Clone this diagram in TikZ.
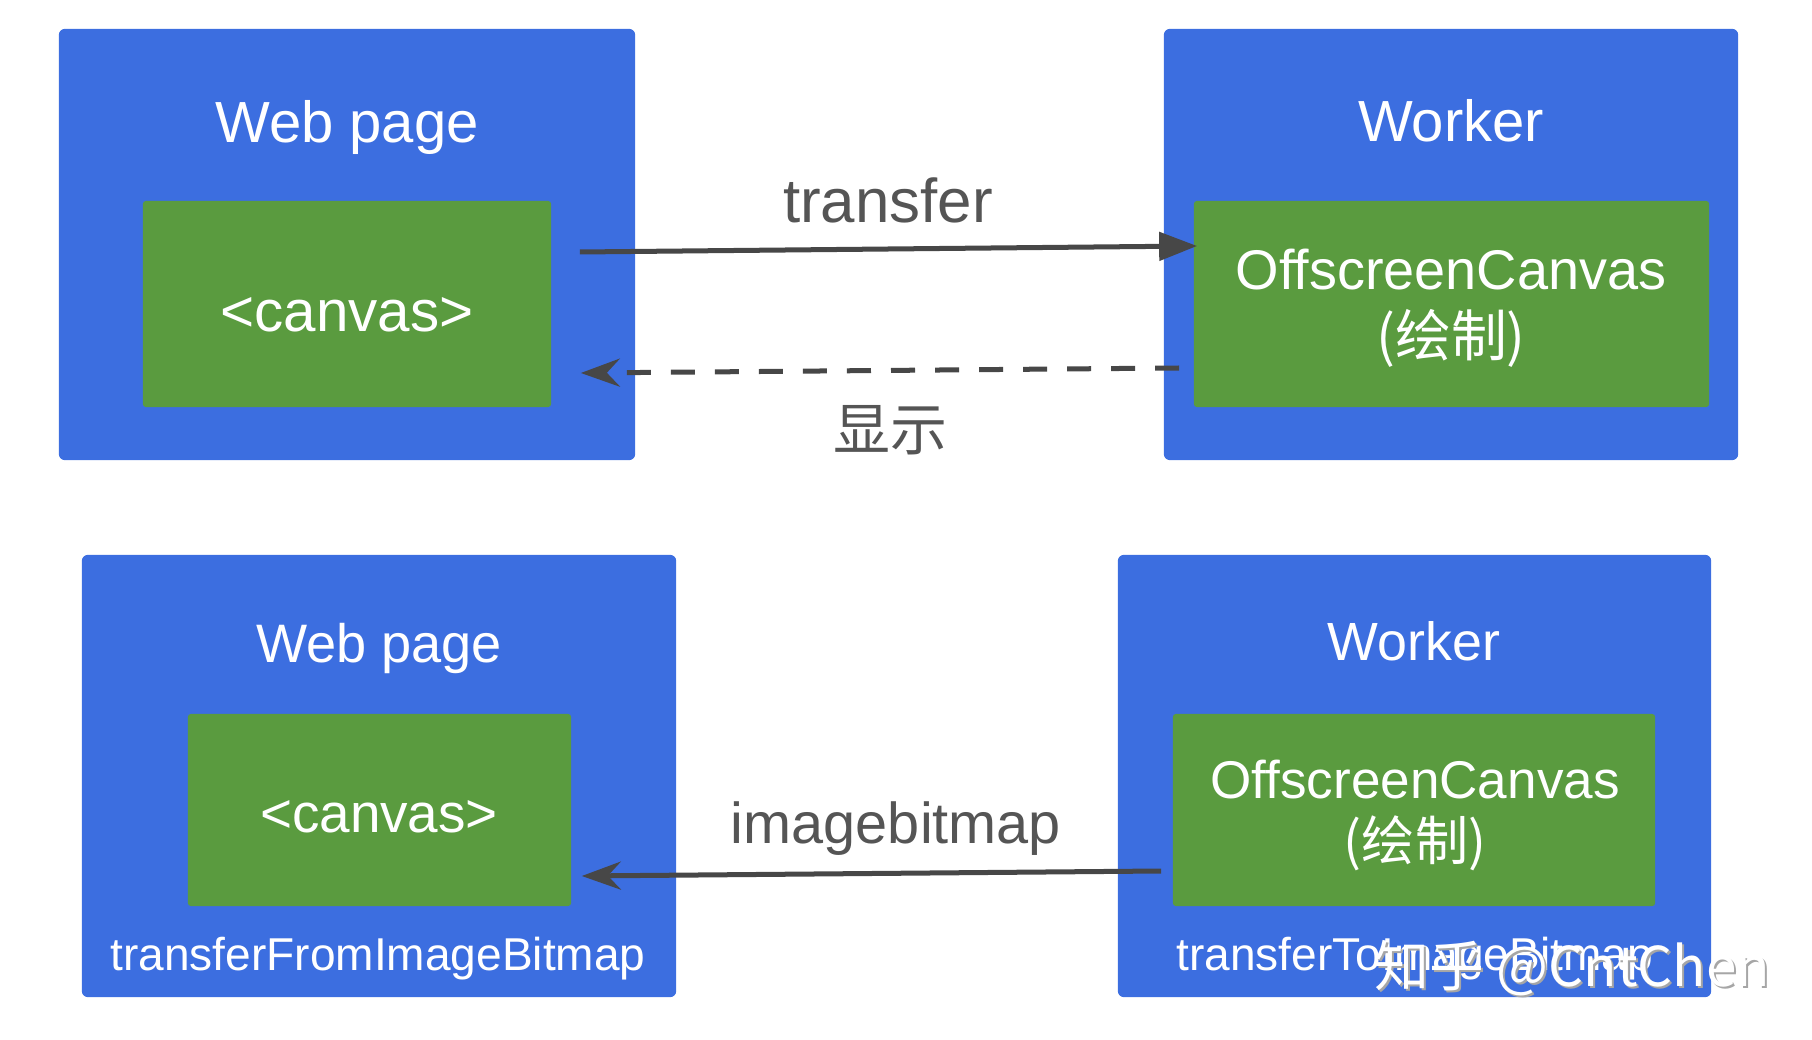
\documentclass[tikz,border=0pt]{standalone}
\usepackage{fontspec}
\setmainfont{Liberation Sans}
\newfontfamily\cjk{Noto Sans CJK SC}
\usetikzlibrary{arrows.meta, calc}
\definecolor{pageblue}{HTML}{3C6EE0}
\definecolor{canvasgreen}{HTML}{5A9B3F}
\definecolor{linegray}{HTML}{474747}
\definecolor{labelgray}{HTML}{555555}
\newcommand{\fs}[1]{\fontsize{#1}{1.2\dimexpr#1pt\relax}\selectfont}

\begin{document}
\begin{tikzpicture}[x=0.01cm, y=-0.01cm,
    panel/.style={fill=pageblue, rounded corners=0.06cm, inner sep=0},
    canvasbox/.style={fill=canvasgreen, rounded corners=0.03cm, inner sep=0},
    txt/.style={text=white, anchor=base, inner sep=0},
    lbl/.style={text=labelgray, anchor=base, inner sep=0},
    arrow/.style={draw=linegray, line width=0.05cm}
]
    \useasboundingbox (0,0) rectangle (1812,1040);

    % top row: canvas handed over to the worker
    \node[panel, minimum width=5.76cm, minimum height=4.31cm] at (347,244.5) (webA) {};
    \node[canvasbox, minimum width=4.08cm, minimum height=2.06cm] at (347,304) (canvasA) {};
    \node[panel, minimum width=5.74cm, minimum height=4.31cm] at (1451,244.5) (workerA) {};
    \node[canvasbox, minimum width=5.15cm, minimum height=2.06cm] at (1451.5,304) (offA) {};

    \node[txt, font=\fs{16.5}] at (347,143) (webAtitle) {Web page};
    \node[txt, font=\fs{16.6}] at (347,332) (canvasAtext) {<canvas>};
    \node[txt, font=\fs{16.5}] at (1451,142) (workerAtitle) {Worker};
    \node[txt, font=\fs{15.9}] at (1451,290) (offAtext) {OffscreenCanvas};
    \node[txt, font=\cjk\fs{15.9}] at (1451,357) (offAdraw) {(绘制)};

    \node[lbl, font=\fs{17.6}] at (888,223) (transferlbl) {transfer};
    \node[lbl, font=\cjk\fs{16.2}] at (890,451) (showlbl) {显示};

    \draw[arrow, -{Triangle[length=0.38cm, width=0.28cm]}]
        ($(canvasA.east)+(28,-52)$) -- ($(offA.west)+(4,-58)$);
    \draw[arrow, dash pattern=on 0.24cm off 0.2cm, -{Stealth[length=0.39cm, width=0.28cm, inset=0.13cm]}]
        ($(offA.west)+(-14,64)$) -- ($(canvasA.east)+(29,69)$);

    % bottom row: bitmap sent back to the page
    \node[panel, minimum width=5.94cm, minimum height=4.42cm] at (379,776) (webB) {};
    \node[canvasbox, minimum width=3.83cm, minimum height=1.92cm] at (379.5,810) (canvasB) {};
    \node[panel, minimum width=5.93cm, minimum height=4.42cm] at (1414.5,776) (workerB) {};
    \node[canvasbox, minimum width=4.82cm, minimum height=1.92cm] at (1414,810) (offB) {};

    \node[txt, font=\fs{15.4}] at (379,662) (webBtitle) {Web page};
    \node[txt, font=\fs{15.6}] at (379,832) (canvasBtext) {<canvas>};
    \node[txt, font=\fs{13.1}] at (378,970) (fromBitmap) {transferFromImageBitmap};
    \node[txt, font=\fs{15.3}] at (1414,660) (workerBtitle) {Worker};
    \node[txt, font=\fs{15.1}] at (1415,798) (offBtext) {OffscreenCanvas};
    \node[txt, font=\cjk\fs{15.1}] at (1415,860) (offBdraw) {(绘制)};
    \node[txt, font=\fs{13.1}] at (1414.5,970) (toBitmap) {transferToImageBitmap};

    \node[lbl, font=\fs{16.4}] at (896,843) (bitmaplbl) {imagebitmap};
    \draw[arrow, -{Stealth[length=0.39cm, width=0.28cm, inset=0.13cm]}]
        ($(offB.west)+(-11,61)$) -- ($(canvasB.east)+(10,66)$);

    % site mark
    \node[anchor=base west, inner sep=0, text=gray!70, font=\cjk\fs{15.6}] at (1376,988) (markshadow) {知乎 @CntChen};
    \node[anchor=base west, inner sep=0, text=white, font=\cjk\fs{15.6}] at (1374,986) (mark) {知乎 @CntChen};
\end{tikzpicture}
\end{document}
